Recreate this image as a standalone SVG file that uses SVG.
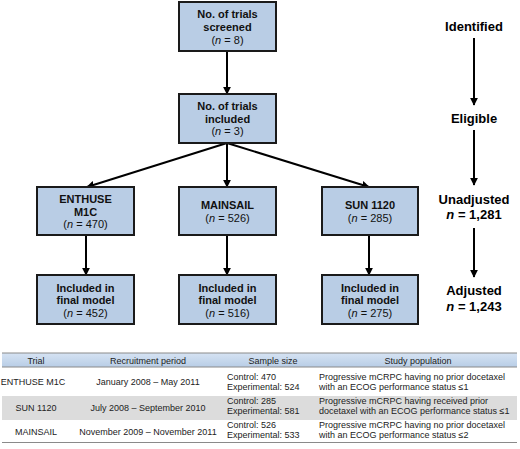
<svg xmlns="http://www.w3.org/2000/svg" width="520" height="449" viewBox="0 0 520 449">
<defs>
<marker id="ah" markerWidth="4" markerHeight="4" refX="3.6" refY="2" orient="auto" markerUnits="strokeWidth">
<path d="M0,0 L4,2 L0,4 Z" fill="#000"/>
</marker>
<linearGradient id="hdr" x1="0" y1="0" x2="0" y2="1">
<stop offset="0" stop-color="#d6e3f3"/>
<stop offset="1" stop-color="#b8cde6"/>
</linearGradient>
</defs>
<style>
.box{fill:#b9cde5;stroke:#1a1a1a;stroke-width:2}
.bt{font-family:"Liberation Sans",Arial,sans-serif;font-size:11px;font-weight:bold;fill:#111;text-anchor:middle}
.nt{font-family:"Liberation Sans",Arial,sans-serif;font-size:11px;fill:#111;text-anchor:middle}
.rl{font-family:"Liberation Sans",Arial,sans-serif;font-size:13px;font-weight:bold;fill:#000;text-anchor:middle}
.cn{stroke:#000;stroke-width:2;fill:none;marker-end:url(#ah)}
.tt{font-family:"Liberation Sans",Arial,sans-serif;font-size:9px;fill:#222}
.tc{text-anchor:middle}
.tl{stroke:#8a8a8a;stroke-width:1}
</style>
<rect width="520" height="449" fill="#fff"/>

<g id="connectors">
<line class="cn" x1="227" y1="51" x2="227" y2="94"/>
<line class="cn" x1="227" y1="143" x2="87" y2="187"/>
<line class="cn" x1="227" y1="143" x2="227" y2="187"/>
<line class="cn" x1="227" y1="143" x2="369" y2="187"/>
<line class="cn" x1="86" y1="235" x2="86" y2="275"/>
<line class="cn" x1="227" y1="235" x2="227" y2="275"/>
<line class="cn" x1="369" y1="235" x2="369" y2="275"/>
<line class="cn" x1="474" y1="38" x2="474" y2="105"/>
<line class="cn" x1="474" y1="130" x2="474" y2="185"/>
<line class="cn" x1="474" y1="228" x2="474" y2="277"/>
</g>

<g id="screened">
<rect class="box" x="179" y="2" width="97" height="49"/>
<text class="bt" x="227.5" y="18">No. of trials</text>
<text class="bt" x="227.5" y="30.5">screened</text>
<text class="nt" x="227.5" y="44">(<tspan font-style="italic">n</tspan> = 8)</text>
</g>

<g id="included">
<rect class="box" x="179" y="94" width="97" height="49"/>
<text class="bt" x="227.5" y="110">No. of trials</text>
<text class="bt" x="227.5" y="122.5">included</text>
<text class="nt" x="227.5" y="135">(<tspan font-style="italic">n</tspan> = 3)</text>
</g>

<g id="enthuse">
<rect class="box" x="37" y="187" width="97" height="48"/>
<text class="bt" x="85.5" y="203">ENTHUSE</text>
<text class="bt" x="85.5" y="215.5">M1C</text>
<text class="nt" x="85.5" y="228">(<tspan font-style="italic">n</tspan> = 470)</text>
</g>

<g id="mainsail">
<rect class="box" x="179" y="187" width="97" height="48"/>
<text class="bt" x="227.5" y="209">MAINSAIL</text>
<text class="nt" x="227.5" y="222">(<tspan font-style="italic">n</tspan> = 526)</text>
</g>

<g id="sun">
<rect class="box" x="322" y="187" width="96" height="48"/>
<text class="bt" x="370" y="209">SUN 1120</text>
<text class="nt" x="370" y="222">(<tspan font-style="italic">n</tspan> = 285)</text>
</g>

<g id="enthuse-final">
<rect class="box" x="37" y="275" width="97" height="49"/>
<text class="bt" x="85.5" y="292">Included in</text>
<text class="bt" x="85.5" y="304">final model</text>
<text class="nt" x="85.5" y="317">(<tspan font-style="italic">n</tspan> = 452)</text>
</g>

<g id="mainsail-final">
<rect class="box" x="179" y="275" width="97" height="49"/>
<text class="bt" x="227.5" y="292">Included in</text>
<text class="bt" x="227.5" y="304">final model</text>
<text class="nt" x="227.5" y="317">(<tspan font-style="italic">n</tspan> = 516)</text>
</g>

<g id="sun-final">
<rect class="box" x="322" y="275" width="96" height="49"/>
<text class="bt" x="370" y="292">Included in</text>
<text class="bt" x="370" y="304">final model</text>
<text class="nt" x="370" y="317">(<tspan font-style="italic">n</tspan> = 275)</text>
</g>

<g id="stages">
<text class="rl" x="474" y="31">Identified</text>
<text class="rl" x="474" y="123">Eligible</text>
<text class="rl" x="474" y="204">Unadjusted</text>
<text class="rl" x="474" y="219"><tspan font-style="italic">n</tspan> = 1,281</text>
<text class="rl" x="474" y="295">Adjusted</text>
<text class="rl" x="474" y="311"><tspan font-style="italic">n</tspan> = 1,243</text>
</g>

<g id="table">
<rect x="2" y="353" width="515" height="14" fill="url(#hdr)"/>
<rect x="2" y="396" width="515" height="24" fill="#dcdcdc"/>
<line class="tl" x1="2" y1="353" x2="517" y2="353"/>
<line class="tl" x1="2" y1="367" x2="517" y2="367"/>
<line class="tl" x1="2" y1="442.5" x2="517" y2="442.5" stroke-width="1.5"/>
<text class="tt tc" x="36" y="364">Trial</text>
<text class="tt tc" x="148" y="364">Recruitment period</text>
<text class="tt tc" x="273" y="364">Sample size</text>
<text class="tt tc" x="418" y="364">Study population</text>

<text class="tt tc" x="33" y="385">ENTHUSE M1C</text>
<text class="tt tc" x="148" y="385">January 2008 – May 2011</text>
<text class="tt" x="227" y="380">Control: 470</text>
<text class="tt" x="227" y="390">Experimental: 524</text>
<text class="tt" x="319" y="380">Progressive mCRPC having no prior docetaxel</text>
<text class="tt" x="319" y="390">with an ECOG performance status ≤1</text>

<text class="tt tc" x="36" y="411">SUN 1120</text>
<text class="tt tc" x="148" y="411">July 2008 – September 2010</text>
<text class="tt" x="227" y="404">Control: 285</text>
<text class="tt" x="227" y="414">Experimental: 581</text>
<text class="tt" x="319" y="404">Progressive mCRPC having received prior</text>
<text class="tt" x="319" y="414">docetaxel with an ECOG performance status ≤1</text>

<text class="tt tc" x="36" y="435">MAINSAIL</text>
<text class="tt tc" x="148" y="435">November 2009 – November 2011</text>
<text class="tt" x="227" y="428">Control: 526</text>
<text class="tt" x="227" y="438">Experimental: 533</text>
<text class="tt" x="319" y="428">Progressive mCRPC having no prior docetaxel</text>
<text class="tt" x="319" y="438">with an ECOG performance status ≤2</text>
</g>
</svg>
